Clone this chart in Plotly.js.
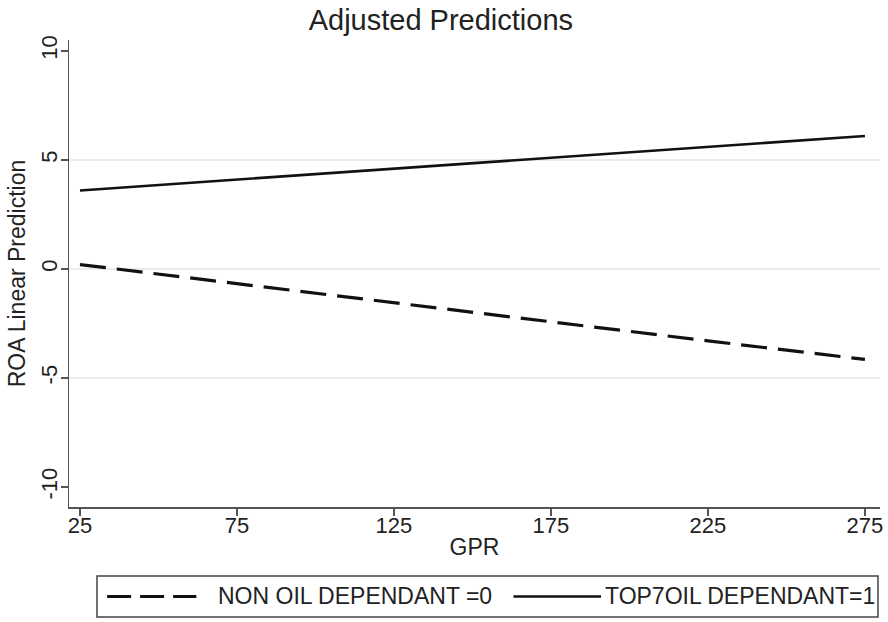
<!DOCTYPE html>
<html>
<head>
<meta charset="utf-8">
<script src="https://cdn.plot.ly/plotly-3.0.1.min.js"></script>
<style>html,body{margin:0;padding:0;background:#fff;}#chart{width:888px;height:622px;}</style>
</head>
<body>
<div id="chart"></div>
<script>
const gpr = [25, 75, 125, 175, 225, 275];
const nonOil = [0.2, -0.68, -1.55, -2.42, -3.3, -4.15];
const top7Oil = [3.6, 4.1, 4.6, 5.1, 5.6, 6.1];
const seriesNames = ["NON OIL DEPENDANT =0", "TOP7OIL DEPENDANT=1"];
const xTicks = [25, 75, 125, 175, 225, 275];
const yTicks = [-10, -5, 0, 5, 10];
const gridVals = [-5, 0, 5];

const font = "Liberation Sans, Arial, sans-serif";
const styles = [
  {color: "#111", width: 3.2, dash: "26px,11px"},
  {color: "#111", width: 2.6, dash: "solid"}
];
const traces = [
  {x: gpr, y: nonOil, name: seriesNames[0], mode: "lines", line: styles[0], showlegend: false},
  {x: gpr, y: top7Oil, name: seriesNames[1], mode: "lines", line: styles[1], showlegend: false}
];

// legend box (drawn manually to match Stata's legend layout)
const legY = -0.1916;
const legendShapes = [
  {type: "rect", xref: "paper", yref: "paper", x0: 0.0345, x1: 0.9975, y0: -0.1478, y1: -0.2355,
   line: {color: "#444", width: 1.5}, fillcolor: "rgba(0,0,0,0)"},
  {type: "line", xref: "paper", yref: "paper", x0: 0.047, x1: 0.157, y0: legY, y1: legY,
   line: {color: styles[0].color, width: styles[0].width, dash: "24px,9px"}},
  {type: "line", xref: "paper", yref: "paper", x0: 0.548, x1: 0.656, y0: legY, y1: legY,
   line: {color: styles[1].color, width: styles[1].width}}
];
const legendText = [
  {xref: "paper", yref: "paper", x: 0.181, y: legY, xanchor: "left", yanchor: "middle",
   text: seriesNames[0], showarrow: false, font: {size: 23, color: "#222"}},
  {xref: "paper", yref: "paper", x: 0.659, y: legY, xanchor: "left", yanchor: "middle",
   text: seriesNames[1], showarrow: false, font: {size: 23, color: "#222"}}
];

const layout = {
  width: 888, height: 622,
  margin: {l: 69, r: 8, t: 40, b: 115},
  paper_bgcolor: "#fff", plot_bgcolor: "#fff",
  font: {family: font, color: "#222"},
  title: {text: "Adjusted Predictions", font: {size: 29, color: "#222"},
    x: 0.4965, xanchor: "center", xref: "container", y: 0.968, yanchor: "middle"},
  xaxis: {range: [21.5, 279.8], tickvals: xTicks, ticktext: xTicks.map(String),
    showgrid: false, zeroline: false, showline: true, linecolor: "#555", linewidth: 1.5,
    ticks: "outside", ticklen: 7, tickcolor: "#555", tickwidth: 1.3, tickfont: {size: 22},
    ticklabelstandoff: -9,
    title: {text: "GPR", font: {size: 23}, standoff: 2}},
  yaxis: {range: [-10.92, 10.5], tickvals: yTicks, ticktext: yTicks.map(String),
    showgrid: false, zeroline: false, showline: true, linecolor: "#555", linewidth: 1.5,
    ticks: "outside", ticklen: 7, tickcolor: "#555", tickwidth: 1.3, tickfont: {size: 22}, tickangle: -90,
    ticklabelstandoff: -5,
    title: {text: "ROA Linear Prediction", font: {size: 23}, standoff: 4}},
  shapes: gridVals.map(v => ({type: "line", xref: "paper", x0: 0, x1: 1, yref: "y", y0: v, y1: v,
    line: {color: "#e6e6e6", width: 1.5}, layer: "below"})).concat(legendShapes),
  annotations: legendText,
  showlegend: false
};
Plotly.newPlot("chart", traces, layout, {displayModeBar: false, staticPlot: true});
</script>
</body>
</html>
